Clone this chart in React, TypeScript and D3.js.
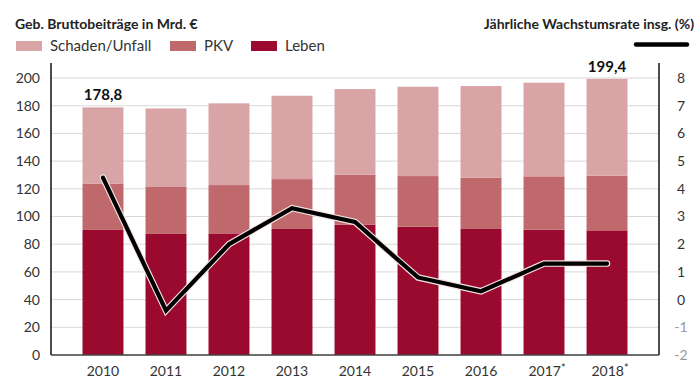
import React from 'react';
import * as d3 from 'd3';

const years = ['2010', '2011', '2012', '2013', '2014', '2015', '2016', '2017*', '2018*'];
const leben = [90.3, 87.4, 87.8, 91.0, 94.1, 92.6, 91.0, 90.5, 90.0];
const pkv = [33.5, 33.9, 34.9, 36.0, 36.1, 36.6, 37.0, 38.5, 39.5];
const schaden = [55.0, 56.7, 59.0, 60.2, 61.8, 64.5, 66.2, 67.6, 69.9];
const growth = [4.4, -0.4, 2.0, 3.3, 2.8, 0.8, 0.3, 1.3, 1.3];
const leftTicks = [0, 20, 40, 60, 80, 100, 120, 140, 160, 180, 200];
const rightTicks = [-2, -1, 0, 1, 2, 3, 4, 5, 6, 7, 8];
const totalLabels = [{ i: 0, text: '178,8' }, { i: 8, text: '199,4' }];

const seriesNames = ['Schaden/Unfall', 'PKV', 'Leben'];
const colors: Record<string, string> = {
  'Schaden/Unfall': '#d9a4a5',
  PKV: '#c0696d',
  Leben: '#9a0a2e',
};

const W = 700;
const H = 391;
const left = 51;
const right = 659;
const top = 78;
const bottom = 355;
const font = "Lato, sans-serif";

const App: React.FC = () => {
  const x = d3.scaleBand<string>().domain(years).range([left, right]).paddingInner(0.35).paddingOuter(0.5);
  const y = d3.scaleLinear().domain([0, 200]).range([bottom, top]);
  const y2 = d3.scaleLinear().domain([-2, 8]).range([bottom, top]);

  const rows = years.map((yr, i) => ({ yr, Leben: leben[i], PKV: pkv[i], 'Schaden/Unfall': schaden[i] }));
  const stack = d3.stack<any>().keys(['Leben', 'PKV', 'Schaden/Unfall'])(rows);

  const line = d3
    .line<number>()
    .x((_d, i) => (x(years[i]) || 0) + x.bandwidth() / 2)
    .y(d => y2(d));
  const path = line(growth) || '';

  return (
    <div style={{ position: 'absolute', left: 0, top: 0 }}>
      <svg width={W} height={H} style={{ display: 'block', background: '#fff' }}>
        {/* grid */}
        {leftTicks.map(t => (
          <line key={'g' + t} x1={left} x2={right} y1={y(t)} y2={y(t)} stroke="#d9d9d9" strokeWidth={1} />
        ))}

        {/* bars */}
        {stack.map(s => (
          <g key={s.key} fill={colors[s.key]}>
            {s.map((d, i) => (
              <rect
                key={i}
                x={x(years[i])}
                width={x.bandwidth()}
                y={y(d[1])}
                height={y(d[0]) - y(d[1])}
              />
            ))}
          </g>
        ))}

        {/* axes */}
        <line x1={left} x2={left} y1={63} y2={bottom} stroke="#111" strokeWidth={1.5} />
        <line x1={right} x2={right} y1={63} y2={bottom} stroke="#111" strokeWidth={1.5} />
        <line x1={left} x2={right} y1={bottom} y2={bottom} stroke="#444" strokeWidth={1.5} />

        {leftTicks.map(t => (
          <text key={'l' + t} x={40} y={y(t)} dy="0.35em" textAnchor="end" fontFamily={font} fontSize={14} fill="#333">
            {t}
          </text>
        ))}
        {rightTicks.map(t => (
          <text key={'r' + t} x={681} y={y2(t)} dy="0.35em" textAnchor="middle" fontFamily={font} fontSize={14} fill={t < 0 ? '#999' : '#333'}>
            {t}
          </text>
        ))}
        {years.map(yr => {
          const star = yr.endsWith('*');
          return (
            <text key={'x' + yr} x={(x(yr) || 0) + x.bandwidth() / 2 + (star ? 3 : 0)} y={371} dy="0.35em" textAnchor="middle" fontFamily={font} fontSize={14} fill="#333">
              {yr.replace('*', '')}
              {star && (
                <tspan fontSize={11} dy={-4}>
                  *
                </tspan>
              )}
            </text>
          );
        })}

        {/* totals */}
        {totalLabels.map(l => (
          <text
            key={l.text}
            x={(x(years[l.i]) || 0) + x.bandwidth() / 2}
            y={y(leben[l.i] + pkv[l.i] + schaden[l.i]) - 7}
            textAnchor="middle"
            fontFamily={font}
            fontSize={15}
            fontWeight="bold"
            fill="#111"
          >
            {l.text}
          </text>
        ))}

        {/* growth line */}
        <path d={path} fill="none" stroke="#f4e4e4" strokeWidth={6.5} strokeLinejoin="miter" strokeLinecap="round" />
        <path d={path} fill="none" stroke="#000" strokeWidth={4.2} strokeLinejoin="miter" strokeLinecap="round" />

        {/* titles */}
        <text x={15} y={29} fontFamily={font} fontSize={14} fontWeight="bold" fill="#222">
          Geb. Bruttobeiträge in Mrd. €
        </text>
        <text x={694} y={29} textAnchor="end" fontFamily={font} fontSize={14} fontWeight="bold" fill="#222">
          Jährliche Wachstumsrate insg. (%)
        </text>
        <line x1={636} x2={687} y1={44.5} y2={44.5} stroke="#000" strokeWidth={4.5} strokeLinecap="round" />

        {/* legend */}
        {seriesNames.map((n, i) => {
          const lx = [16, 170, 251][i];
          return (
            <g key={n}>
              <rect x={lx} y={41} width={26} height={10} fill={colors[n]} />
              <text x={lx + 34} y={46} dy="0.35em" fontFamily={font} fontSize={15} fill="#333">
                {n}
              </text>
            </g>
          );
        })}
      </svg>
    </div>
  );
};

export default App;
